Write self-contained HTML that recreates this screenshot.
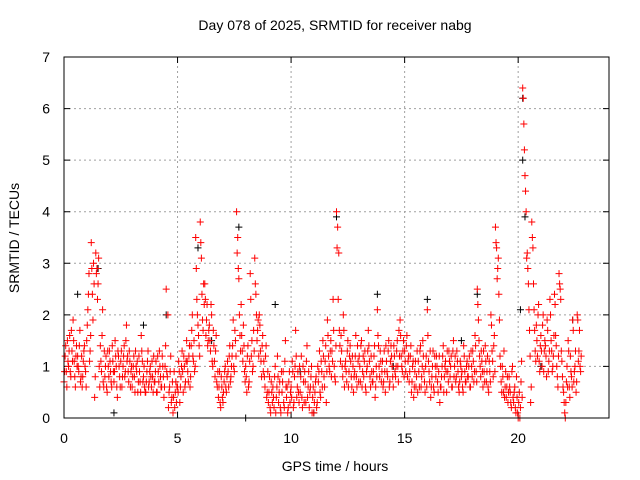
<!DOCTYPE html>
<html><head><meta charset="utf-8"><style>
body{margin:0;background:#fff}
svg{display:block;font-family:"Liberation Sans",sans-serif}
</style></head><body>
<svg id="chart" width="640" height="480" viewBox="0 0 640 480" xmlns="http://www.w3.org/2000/svg">
<rect width="640" height="480" fill="#fff"/>
<text x="335" y="30" font-size="14" text-anchor="middle">Day 078 of 2025, SRMTID for receiver nabg</text>
<text x="335" y="471" font-size="14" text-anchor="middle">GPS time / hours</text>
<text x="0" y="0" font-size="14" text-anchor="middle" transform="translate(19,238) rotate(-90)">SRMTID / TECUs</text>
<g id="grid"></g>
<g id="ticks"></g>
<g id="black"></g>
<g id="red"></g>
<rect x="64" y="57" width="545" height="361" fill="none" stroke="#000" stroke-width="1"/>
</svg>
<script>
const xTicks=[0,5,10,15,20];
const yTicks=[0,1,2,3,4,5,6,7];
const binStart=[0,0.2,0.4,0.6,0.8,1.0,1.2,1.4,1.6,1.8,2.0,2.2,2.4,2.6,2.8,3.0,3.2,3.4,3.6,3.8,4.0,4.2,4.4,4.6,4.8,5.0,5.2,5.4,5.6,5.8,6.0,6.2,6.4,6.6,6.8,7.0,7.2,7.4,7.6,7.8,8.0,8.2,8.4,8.6,8.8,9.0,9.2,9.4,9.6,9.8,10.0,10.2,10.4,10.6,10.8,11.0,11.2,11.4,11.6,11.8,12.0,12.2,12.4,12.6,12.8,13.0,13.2,13.4,13.6,13.8,14.0,14.2,14.4,14.6,14.8,15.0,15.2,15.4,15.6,15.8,16.0,16.2,16.4,16.6,16.8,17.0,17.2,17.4,17.6,17.8,18.0,18.2,18.4,18.6,18.8,19.0,19.2,19.4,19.6,19.8,20.0,20.2,20.4,20.6,20.8,21.0,21.2,21.4,21.6,21.8,22.0,22.2,22.4,22.6];
const redValues=[
[0.7,1.2,0.9,1.5],[1.0,1.6,0.8,1.3],[1.9,1.1,0.6,1.4],[1.2,0.9,1.7,0.8],[0.6,1.1,1.4,0.9],
[1.5,2.1,2.8,1.3],[3.4,2.4,3.0,0.4],[3.2,2.9,2.6,1.0],[1.4,0.9,2.1,0.6],[0.8,1.2,0.5,1.0],
[1.3,0.9,0.6,1.1],[0.7,1.5,1.0,0.4],[1.2,0.8,1.1,0.6],[1.0,1.4,0.9,1.8],[1.2,0.7,1.1,0.9],
[0.6,1.0,0.8,1.3],[0.9,0.5,1.2,0.7],[1.6,1.1,0.8,0.6],[0.5,0.9,1.3,0.7],[1.0,0.6,0.8,1.2],
[0.7,1.1,0.5,0.9],[1.3,0.8,0.6,1.0],[0.4,1.0,2.5,0.8],[0.2,0.6,1.2,0.4],[0.1,0.9,0.5,0.3],
[0.6,1.1,0.3,0.8],[1.3,0.5,1.0,0.7],[1.5,0.9,1.2,0.6],[1.4,2.0,1.1,0.9],[3.5,2.3,1.8,1.4],
[3.8,3.1,1.9,2.6],[2.6,1.6,2.2,1.5],[1.8,1.3,2.0,1.0],[1.4,0.8,1.6,0.6],[0.4,0.9,0.2,0.6],
[0.3,0.7,1.0,0.5],[1.1,0.6,1.4,0.8],[1.2,1.9,0.9,1.5],[4.0,3.5,2.7,1.6],[2.2,1.3,1.8,0.9],
[1.0,0.5,1.4,0.7],[2.8,1.2,0.9,1.7],[3.1,2.4,1.5,1.9],[2.0,1.3,0.8,1.6],[1.1,0.6,1.4,0.5],
[0.3,0.8,0.1,0.5],[0.6,0.2,1.0,0.4],[1.2,0.3,0.7,0.1],[0.5,0.9,0.2,1.5],[0.4,0.1,0.7,0.3],
[0.6,1.1,0.2,0.8],[1.7,0.4,0.9,0.3],[0.5,1.2,0.2,0.7],[0.9,0.3,1.4,0.6],[0.2,0.6,1.0,0.4],
[0.1,0.5,0.8,0.3],[0.7,1.3,0.4,0.9],[1.5,0.8,1.1,0.3],[1.9,1.2,0.9,1.5],[1.3,2.3,1.0,0.7],
[4.0,3.7,3.2,1.4],[1.6,1.0,2.0,0.6],[1.1,0.7,1.5,0.9],[1.4,0.8,1.2,0.5],[0.9,1.6,0.6,1.1],
[1.2,0.7,1.5,0.9],[0.8,1.3,0.5,1.0],[1.7,1.1,0.6,0.9],[0.7,1.2,0.4,1.0],[2.1,1.4,0.8,1.1],
[0.9,0.6,1.3,0.5],[1.1,0.8,1.5,0.7],[1.4,1.0,0.6,1.2],[0.8,1.3,1.0,1.7],[1.9,1.2,0.9,1.5],
[1.3,0.9,1.6,1.1],[0.7,1.2,0.5,1.0],[0.4,0.9,0.6,1.3],[1.1,0.6,1.4,0.8],[1.5,0.9,0.5,1.2],
[2.1,1.1,0.7,0.4],[0.8,1.3,0.5,1.0],[1.2,0.7,0.9,0.3],[0.6,1.0,1.4,0.8],[1.1,0.5,0.9,1.3],
[0.8,1.2,0.6,1.5],[1.0,0.7,1.3,0.9],[0.5,1.1,0.8,0.6],[1.4,0.9,0.7,1.1],[0.8,1.2,0.6,1.0],
[1.3,0.7,1.6,0.9],[2.5,1.9,1.2,0.8],[1.1,0.6,0.9,1.4],[0.7,1.2,0.5,0.9],[2.0,1.3,0.8,1.6],
[3.7,3.3,2.9,2.4],[1.2,0.7,1.0,0.5],[0.4,0.9,0.6,0.3],[0.8,0.5,0.2,1.0],[0.3,0.6,0.1,0.4],
[0.0,0.5,0.2,1.1],[6.4,5.7,4.7,4.0],[3.2,2.6,1.7,0.3],[3.8,3.3,2.1,1.3],[1.8,1.2,2.2,0.9],
[1.6,1.0,2.0,1.3],[1.4,0.8,1.7,1.1],[2.3,1.5,0.9,1.2],[2.4,1.6,1.0,0.6],[2.8,2.5,1.3,0.8],
[0.5,0.1,0.3,1.0],[1.5,0.6,1.2,0.8],[1.9,0.7,1.0,0.5],[2.0,1.1,1.7,0.9]];
const redValues2=[
[0.9,1.4,0.6,1.1],[1.3,0.9,1.7,1.1],[1.5,0.8,1.2,1.0],[1.0,1.4,0.7,1.2],[0.8,1.3,1.0,0.6],
[1.8,2.4,1.1,1.6],[2.9,1.9,2.6,0.8],[2.8,2.3,3.1,0.6],[1.1,1.6,0.7,1.3],[1.0,0.6,1.3,0.8],
[1.1,0.7,1.4,0.9],[0.9,1.2,0.6,1.3],[1.0,0.6,1.3,0.8],[1.2,0.8,1.5,1.1],[0.9,1.3,0.6,1.0],
[0.8,1.2,0.5,1.0],[1.1,0.7,0.9,0.5],[1.3,0.7,1.0,0.5],[0.7,1.1,0.6,0.9],[0.8,1.1,0.5,0.7],
[0.9,0.5,1.2,0.7],[1.0,0.6,1.2,0.8],[0.6,1.4,0.9,2.0],[0.5,0.9,0.3,0.7],[0.4,0.2,0.7,0.6],
[0.5,0.9,0.6,1.0],[0.9,1.2,0.6,1.1],[1.1,0.7,1.4,0.8],[1.7,1.2,1.5,1.0],[2.9,2.0,1.6,1.2],
[3.4,2.4,1.7,2.2],[2.3,1.9,1.4,1.7],[1.5,2.2,1.1,1.7],[1.1,1.3,0.7,0.9],[0.6,0.3,0.8,0.4],
[0.5,0.9,0.6,0.8],[0.9,1.2,0.7,1.0],[1.4,1.0,1.7,1.2],[3.2,2.9,2.0,1.3],[1.6,1.1,1.4,0.7],
[0.8,1.2,0.6,1.1],[2.3,1.5,1.0,1.3],[2.6,2.0,1.7,1.2],[1.8,1.1,1.4,0.9],[0.8,1.2,0.4,0.9],
[0.5,0.2,0.7,0.3],[0.4,0.8,0.1,0.6],[0.8,0.5,0.2,0.9],[0.7,0.3,1.1,0.6],[0.6,0.2,0.9,0.5],
[0.4,0.9,0.3,1.0],[1.2,0.6,0.5,1.0],[0.8,0.4,1.0,0.3],[0.7,1.1,0.4,0.9],[0.5,0.8,0.1,0.6],
[0.3,0.7,0.2,1.0],[0.9,0.5,1.1,0.6],[1.2,0.6,1.4,0.9],[1.6,1.0,1.3,0.8],[1.1,1.7,0.8,1.4],
[3.3,2.3,1.7,1.1],[1.3,0.8,1.7,1.0],[0.9,1.3,0.6,1.2],[1.1,0.6,1.0,0.8],[1.2,0.8,1.4,0.7],
[1.0,1.4,0.6,1.2],[1.1,0.6,0.9,1.3],[1.4,0.8,1.2,0.7],[0.9,1.4,0.6,0.8],[1.6,1.0,1.3,0.7],
[1.1,0.7,0.9,1.4],[0.9,1.3,0.6,1.1],[1.2,0.8,1.4,0.9],[1.0,1.5,0.7,1.2],[1.6,1.0,1.3,0.8],
[1.1,1.4,0.8,1.2],[0.9,1.4,0.7,1.1],[0.6,1.1,0.8,0.5],[0.9,1.3,0.6,1.0],[1.2,0.7,1.0,0.6],
[1.6,0.9,1.3,0.6],[1.0,0.6,1.2,0.8],[1.0,0.5,1.2,0.6],[0.8,1.2,0.5,1.0],[0.9,1.3,0.7,1.1],
[1.0,0.6,1.3,0.8],[1.2,0.8,1.1,0.6],[0.7,1.0,0.9,0.5],[1.2,0.7,1.0,0.8],[1.0,0.6,1.3,0.8],
[1.1,0.9,1.4,0.7],[2.2,1.5,1.0,1.3],[0.9,1.3,0.7,1.1],[0.9,0.6,1.1,0.7],[1.8,1.1,1.4,0.9],
[3.4,2.7,3.1,1.9],[1.0,0.5,0.8,1.3],[0.6,0.4,0.8,0.5],[0.6,0.3,0.9,0.4],[0.5,0.2,0.8,0.1],
[0.3,0.0,0.7,0.4],[6.2,5.2,4.4,3.1],[2.9,2.1,1.2,0.6],[3.5,2.6,1.7,1.1],[1.5,2.0,1.1,1.4],
[1.3,1.8,0.9,1.5],[1.2,1.9,0.9,1.3],[2.0,1.3,1.0,1.6],[2.2,1.4,0.8,1.2],[2.6,2.3,1.1,0.6],
[0.3,0.0,0.7,0.6],[1.3,0.4,0.9,0.6],[1.7,0.9,1.3,0.7],[1.9,1.3,1.0,1.2]];
const blackTimes=[0.6,1.5,2.2,3.5,4.5,5.9,6.5,7.7,8.0,9.3,10.4,11.0,12.0,13.8,14.5,16.0,17.5,18.2,20.1,20.2,20.2,20.3,21.0,22.4];
const blackValues=[2.4,2.9,0.1,1.8,2.0,3.3,1.5,3.7,0.0,2.2,0.9,0.1,3.9,2.4,1.0,2.3,1.5,2.4,2.1,6.2,5.0,3.9,1.0,1.9];

const X0=64,X1=609,Y0=418,Y1=57,XMAX=24,YMAX=7;
const xs=t=>X0+t/XMAX*(X1-X0);
const ys=v=>Y0-v/YMAX*(Y0-Y1);
const NS="http://www.w3.org/2000/svg";
const grid=document.getElementById('grid'),ticks=document.getElementById('ticks');
function mk(tag,attrs,parent){const e=document.createElementNS(NS,tag);for(const k in attrs)e.setAttribute(k,attrs[k]);parent.appendChild(e);return e;}
xTicks.forEach(t=>{const x=xs(t);
 if(t>0){const g=mk('line',{x1:x,x2:x,y1:Y0,y2:Y1,stroke:'#a0a0a0','stroke-dasharray':'2,3'},grid);
 
 }
 const a=mk('path',{d:`M${x},${Y0}v-6M${x},${Y1}v6`,stroke:'#000'},ticks);
 
 
 const l=mk('text',{x:x,y:443,'font-size':14,'text-anchor':'middle'},ticks);l.textContent=t;
 
 
});
yTicks.forEach(v=>{const y=ys(v);
 if(v>0&&v<7){const g=mk('line',{x1:X0,x2:X1,y1:y,y2:y,stroke:'#a0a0a0','stroke-dasharray':'2,3'},grid);
 
 }
 const a=mk('path',{d:`M${X0},${y}h6M${X1},${y}h-6`,stroke:'#000'},ticks);
 
 
 const l=mk('text',{x:50,y:y+5,'font-size':14,'text-anchor':'end'},ticks);l.textContent=v;
 
 
});
function plus(t,v,color,parent,name){const x=xs(t),y=ys(v);
 const p=mk('path',{d:`M${x-3.5},${y}h7M${x},${y-3.5}v7`,stroke:color,'stroke-width':1},parent);
 
 
}
const bg=document.getElementById('black');
blackTimes.forEach((t,i)=>plus(t,blackValues[i],'#000',bg,'black-point'));
const rg=document.getElementById('red');
binStart.forEach((b,i)=>redValues[i].forEach((v,j)=>plus(b+j*0.05,v,'#ff0000',rg,'red-point')));
binStart.forEach((b,i)=>redValues2[i].forEach((v,j)=>plus(b+0.025+j*0.05,v,'#ff0000',rg,'red-point')));
</script>
</body></html>
